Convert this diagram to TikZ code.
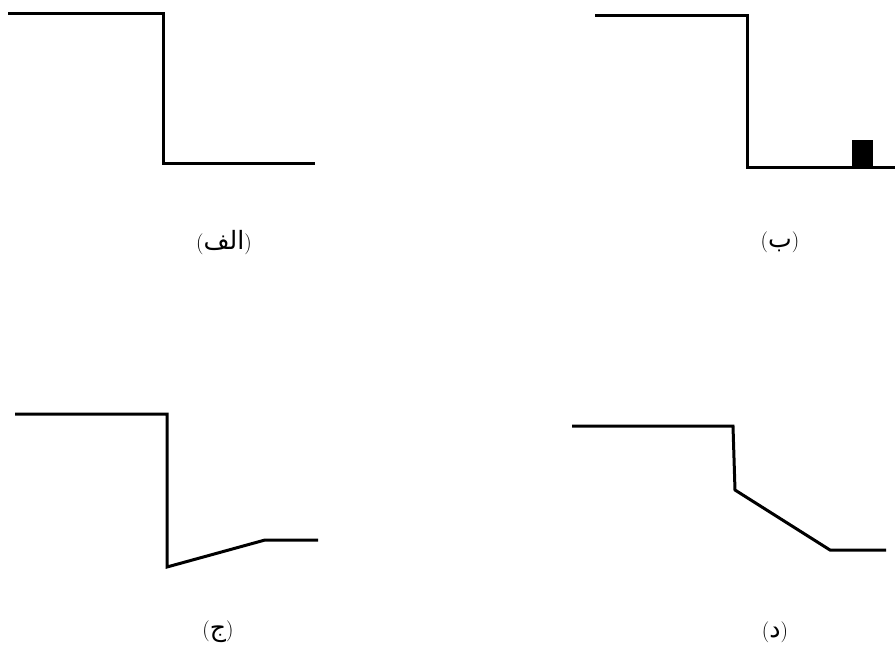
\documentclass[tikz,border=0pt]{standalone}
\usepackage{fontspec}
\newfontfamily\arabicfont[Script=Arabic,Scale=1.2]{DejaVu Sans}
\TeXXeTstate=1
% caption in parentheses: brackets in the roman font, letters in Arabic script
\newcommand{\pcap}[1]{(\hbox{\arabicfont\beginR #1\endR})}
\begin{document}
\begin{tikzpicture}[x=1pt,y=-1pt,
  profile/.style={line width=3pt,line join=miter,line cap=butt},
  caption/.style={font=\fontsize{21}{24}\selectfont,inner sep=0pt}]
\useasboundingbox (0,0) rectangle (895,654);

% (a) plain step
\draw[profile] (8,13) -- (163,13) -- (163,163) -- (315,163);
\node[caption] (la) at (224,243) {\pcap{الف}};

% (b) step with a small block downstream
\draw[profile] (595,15) -- (747,15) -- (747,167) -- (895,167);
\fill (852,140) rectangle (873,167);
\node[caption] (lb) at (780,242) {\pcap{ب}};

% (c) step with a rising ramp
\draw[profile] (15,414) -- (167,414) -- (167,567) -- (265,540) -- (318,540);
\node[caption] (lc) at (218,632) {\pcap{ج}};

% (d) short drop followed by a descending ramp
\draw[profile] (572,426) -- (733,426) -- (735,490) -- (830,550) -- (886,550);
\node[caption] (ld) at (775,632) {\pcap{د}};
\end{tikzpicture}
\end{document}
